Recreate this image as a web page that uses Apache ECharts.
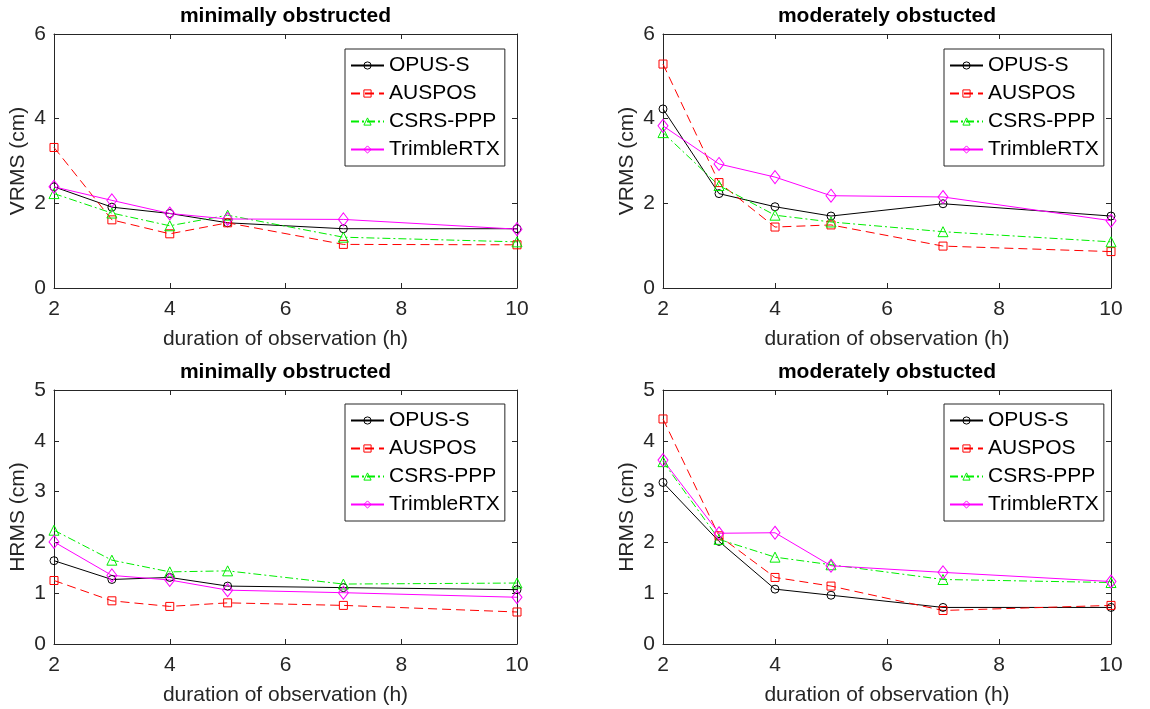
<!DOCTYPE html>
<html>
<head>
<meta charset="utf-8">
<script src="https://cdn.jsdelivr.net/npm/echarts@6/dist/echarts.min.js"></script>
<style>html,body{margin:0;padding:0;background:#fff;}#c{width:1150px;height:709px;}</style>
</head>
<body>
<div id="c"></div>
<script>
// ---- data ----
const hours = [2, 3, 4, 5, 7, 10];
const seriesNames = ['OPUS-S', 'AUSPOS', 'CSRS-PPP', 'TrimbleRTX'];
const panelTitles = ['minimally obstructed', 'moderately obstucted', 'minimally obstructed', 'moderately obstucted'];
const yAxisNames = ['VRMS (cm)', 'VRMS (cm)', 'HRMS (cm)', 'HRMS (cm)'];
const xAxisName = 'duration of observation (h)';

// Panel 1: VRMS, minimally obstructed
const vrmsMinOpus    = [2.39, 1.91, 1.76, 1.54, 1.40, 1.40];
const vrmsMinAuspos  = [3.32, 1.61, 1.28, 1.54, 1.03, 1.02];
const vrmsMinCsrs    = [2.23, 1.77, 1.47, 1.72, 1.20, 1.09];
const vrmsMinTrimble = [2.39, 2.07, 1.76, 1.63, 1.62, 1.39];
// Panel 2: VRMS, moderately obstructed
const vrmsModOpus    = [4.23, 2.23, 1.92, 1.70, 1.99, 1.70];
const vrmsModAuspos  = [5.29, 2.49, 1.44, 1.49, 0.99, 0.86];
const vrmsModCsrs    = [3.67, 2.42, 1.72, 1.56, 1.33, 1.09];
const vrmsModTrimble = [3.83, 2.93, 2.62, 2.18, 2.15, 1.59];
// Panel 3: HRMS, minimally obstructed
const hrmsMinOpus    = [1.64, 1.27, 1.31, 1.14, 1.11, 1.07];
const hrmsMinAuspos  = [1.25, 0.85, 0.74, 0.81, 0.76, 0.63];
const hrmsMinCsrs    = [2.24, 1.65, 1.42, 1.44, 1.18, 1.20];
const hrmsMinTrimble = [2.01, 1.35, 1.26, 1.06, 1.01, 0.92];
// Panel 4: HRMS, moderately obstructed
const hrmsModOpus    = [3.18, 2.02, 1.08, 0.96, 0.72, 0.72];
const hrmsModAuspos  = [4.43, 2.13, 1.31, 1.14, 0.66, 0.76];
const hrmsModCsrs    = [3.59, 2.06, 1.71, 1.56, 1.27, 1.21];
const hrmsModTrimble = [3.62, 2.18, 2.19, 1.54, 1.41, 1.23];

const panelData = [
  [vrmsMinOpus, vrmsMinAuspos, vrmsMinCsrs, vrmsMinTrimble],
  [vrmsModOpus, vrmsModAuspos, vrmsModCsrs, vrmsModTrimble],
  [hrmsMinOpus, hrmsMinAuspos, hrmsMinCsrs, hrmsMinTrimble],
  [hrmsModOpus, hrmsModAuspos, hrmsModCsrs, hrmsModTrimble]
];
const yMax = [6, 6, 5, 5];
const yInterval = [2, 2, 1, 1];

// ---- styling / layout ----
const FONT = "'Liberation Sans', Arial, Helvetica, sans-serif";
const FS = 21;
const AX = '#262626';
const CLEAR = 'rgba(255,255,255,0)';
const grids = [
  {left: 54, top: 34, width: 463, height: 254},
  {left: 663, top: 34, width: 448, height: 254},
  {left: 54, top: 390, width: 463, height: 254},
  {left: 663, top: 390, width: 448, height: 254}
];
const legendPos = [
  {left: 345, top: 49},
  {left: 944, top: 49},
  {left: 345, top: 404},
  {left: 944, top: 404}
];
const styles = [
  {color: '#000000', symbol: 'circle', size: 8, type: 'solid'},
  {color: '#ff0000', symbol: 'rect', size: 8, type: [9, 5]},
  {color: '#00ee00', symbol: 'triangle', size: 10, type: [8, 3, 2, 3]},
  {color: '#ff00ff', symbol: 'diamond', size: [10, 13], type: 'solid'}
];

const xAxes = [], yAxes = [], series = [], titles = [], legends = [];
grids.forEach((g, i) => {
  const tick = {show: true, inside: true, length: 5, lineStyle: {color: AX, width: 1}};
  const line = {show: true, onZero: false, lineStyle: {color: AX, width: 1}};
  xAxes.push({
    gridIndex: i, type: 'value', min: 2, max: 10, interval: 2, position: 'bottom',
    axisLine: line, axisTick: tick, splitLine: {show: false},
    axisLabel: {fontSize: FS, fontFamily: FONT, color: AX, margin: 11},
    name: xAxisName, nameLocation: 'middle', nameGap: 41,
    nameTextStyle: {fontSize: FS, fontFamily: FONT, color: AX}
  });
  xAxes.push({
    gridIndex: i, type: 'value', min: 2, max: 10, interval: 2, position: 'top',
    axisLine: line, axisTick: tick, splitLine: {show: false}, axisLabel: {show: false}
  });
  yAxes.push({
    gridIndex: i, type: 'value', min: 0, max: yMax[i], interval: yInterval[i], position: 'left',
    axisLine: line, axisTick: tick, splitLine: {show: false},
    axisLabel: {fontSize: FS, fontFamily: FONT, color: AX, margin: 8},
    name: yAxisNames[i], nameLocation: 'middle', nameGap: 25,
    nameTextStyle: {fontSize: FS, fontFamily: FONT, color: AX}
  });
  yAxes.push({
    gridIndex: i, type: 'value', min: 0, max: yMax[i], interval: yInterval[i], position: 'right',
    axisLine: line, axisTick: tick, splitLine: {show: false}, axisLabel: {show: false}
  });
  titles.push({
    text: panelTitles[i], left: g.left + g.width / 2, textAlign: 'center',
    top: g.top - 28, padding: 0,
    textStyle: {fontSize: FS, fontWeight: 'bold', fontFamily: FONT, color: '#000'}
  });
  legends.push({
    left: legendPos[i].left, top: legendPos[i].top,
    orient: 'vertical', selectedMode: false,
    data: seriesNames.map((n, k) => ({
      name: n,
      itemStyle: {color: CLEAR, borderColor: styles[k].color, borderWidth: 1}
    })),
    borderColor: AX, borderWidth: 1, backgroundColor: '#fff',
    padding: [6, 5, 6, 5], itemGap: 7, itemWidth: 33, itemHeight: 9,
    textStyle: {fontSize: FS, fontFamily: FONT, color: '#000'}
  });
  panelData[i].forEach((vals, k) => {
    const s = styles[k];
    series.push({
      name: seriesNames[k], type: 'line', xAxisIndex: 2 * i, yAxisIndex: 2 * i,
      data: hours.map((h, j) => [h, vals[j]]),
      symbol: s.symbol, symbolSize: s.size, showAllSymbol: true,
      lineStyle: {color: s.color, width: 1, type: s.type},
      itemStyle: {color: CLEAR, borderColor: s.color, borderWidth: 1},
      emphasis: {disabled: true}, animation: false
    });
  });
});

const chart = echarts.init(document.getElementById('c'), null, {renderer: 'canvas'});
chart.setOption({
  backgroundColor: '#fff',
  animation: false,
  title: titles,
  legend: legends,
  grid: grids,
  xAxis: xAxes,
  yAxis: yAxes,
  series: series
});
</script>
</body>
</html>
